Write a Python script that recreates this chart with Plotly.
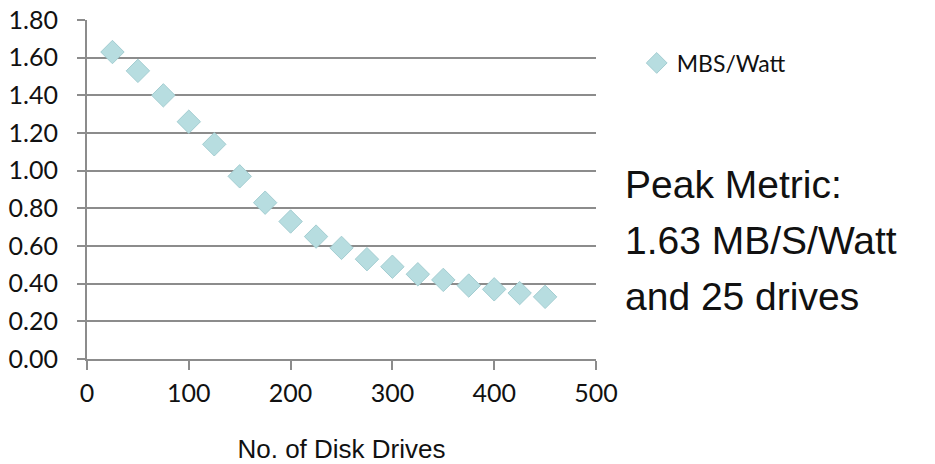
import plotly.graph_objects as go

drives = [25, 50, 75, 100, 125, 150, 175, 200, 225, 250, 275, 300, 325, 350, 375, 400, 425, 450]
mbs_per_watt = [1.63, 1.53, 1.40, 1.26, 1.14, 0.97, 0.83, 0.73, 0.65, 0.59, 0.53, 0.49, 0.45, 0.42, 0.39, 0.37, 0.35, 0.33]
y_ticks = [0.0, 0.2, 0.4, 0.6, 0.8, 1.0, 1.2, 1.4, 1.6, 1.8]
x_ticks = [0, 100, 200, 300, 400, 500]
note_lines = ["Peak Metric:", "1.63 MB/S/Watt", "and 25 drives"]

tick_font = dict(family="Lato, Open Sans, sans-serif", size=25, color="#111")
grid = "#8c8c8c"

fig = go.Figure()
fig.add_trace(go.Scatter(
    x=drives, y=mbs_per_watt, mode="markers", name="MBS/Watt",
    marker=dict(symbol="diamond", size=18, color="#b7dde0",
                line=dict(color="#a3cdd1", width=1)),
))

fig.update_layout(
    width=935, height=464,
    margin=dict(l=87, r=339, t=20, b=105),
    paper_bgcolor="white", plot_bgcolor="white",
    showlegend=True,
    legend=dict(x=1.08, y=(359 - 63) / 339, xanchor="left", yanchor="middle",
                font=dict(family="Lato, Open Sans, sans-serif", size=23, color="#111"),
                bgcolor="rgba(0,0,0,0)", itemwidth=30),
    xaxis=dict(range=[0, 500], tickvals=x_ticks, ticktext=[str(v) for v in x_ticks],
               showgrid=False, showline=True, linecolor=grid, linewidth=2,
               ticks="outside", ticklen=9, tickwidth=2, tickcolor=grid,
               tickfont=tick_font, ticklabelstandoff=2, zeroline=False, automargin=False,
               title=dict(text="No. of Disk Drives",
                          font=dict(family="Liberation Sans, Arial, sans-serif", size=26, color="#111"),
                          standoff=37)),
    yaxis=dict(range=[0, 1.8], tickvals=y_ticks, ticktext=["%.2f" % v for v in y_ticks],
               showgrid=True, gridcolor=grid, gridwidth=1.5,
               showline=True, linecolor=grid, linewidth=2,
               ticks="outside", ticklen=8, tickwidth=2, tickcolor=grid,
               tickfont=tick_font, ticklabelstandoff=14, zeroline=False, automargin=False),
)

for i, line in enumerate(note_lines):
    fig.add_annotation(
        xref="paper", yref="paper", x=(623 - 87) / 509, y=(359 - (184 + 56 * i)) / 339,
        xanchor="left", yanchor="middle", showarrow=False, text=line,
        font=dict(family="Liberation Sans, Arial, sans-serif", size=39, color="#111"),
    )

fig.write_html("out.html")
